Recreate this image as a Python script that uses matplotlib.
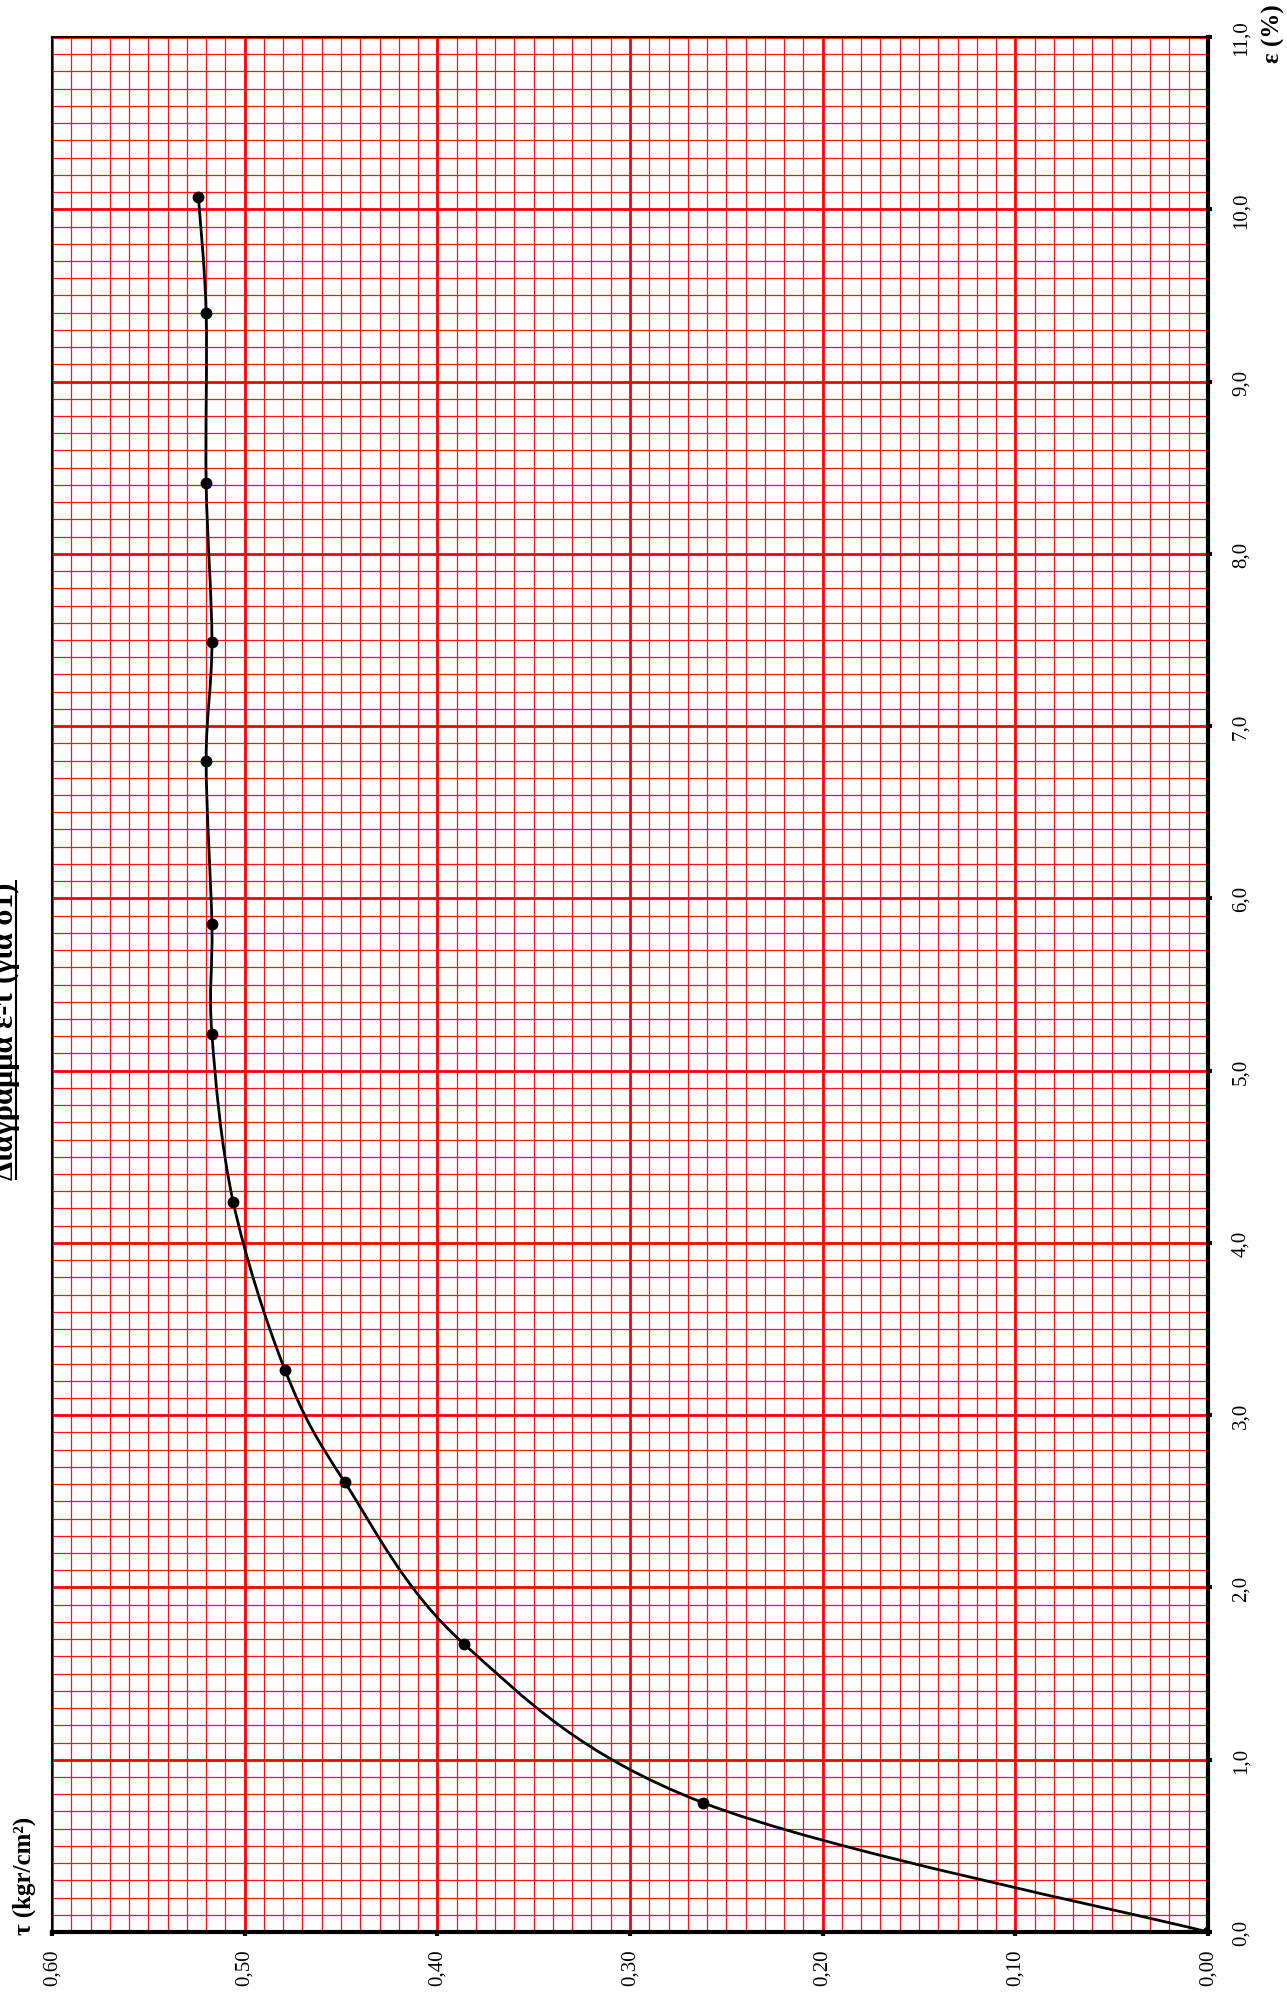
import numpy as np
import matplotlib.pyplot as plt
from matplotlib.path import Path
from matplotlib.patches import PathPatch
from matplotlib.lines import Line2D
from matplotlib.ticker import MultipleLocator, FixedLocator

plt.rcParams['font.family'] = ['Liberation Serif', 'DejaVu Serif']

# =========================
# data (read from the sheet)
# =========================
eps = [0.0, 0.75, 1.67, 2.61, 3.26, 4.24, 5.21, 5.85, 6.80, 7.49, 8.41, 9.40, 10.07]
tau = [0.0, 0.262, 0.386, 0.448, 0.479, 0.506, 0.517, 0.517, 0.520, 0.517, 0.520, 0.520, 0.524]

tau_ticks = [0.0, 0.1, 0.2, 0.3, 0.4, 0.5, 0.6]
tau_labels = ["0,00", "0,10", "0,20", "0,30", "0,40", "0,50", "0,60"]
eps_ticks = list(range(0, 12))
eps_labels = [f"{v},0" for v in eps_ticks]

title = "Διάγραμμα ε-τ (για σ1)"
tau_title = "τ (kgr/cm²)"
eps_title = "ε (%)"

W, H = 1287, 1999


def smooth_path(x, y, sx, sy):
    # excel-like smoothed line: cubic bezier through the points
    px = np.asarray(x) * sx
    py = np.asarray(y) * sy
    n = len(px)
    verts = [(px[0], py[0])]
    codes = [Path.MOVETO]
    for i in range(n - 1):
        i0 = max(i - 1, 0)
        i3 = min(i + 2, n - 1)
        c1 = (px[i] + (px[i + 1] - px[i0]) / 6, py[i] + (py[i + 1] - py[i0]) / 6)
        c2 = (px[i + 1] - (px[i3] - px[i]) / 6, py[i + 1] - (py[i3] - py[i]) / 6)
        verts += [c1, c2, (px[i + 1], py[i + 1])]
        codes += [Path.CURVE4] * 3
    verts = np.array(verts) / [sx, sy]
    return Path(verts, codes)


fig = plt.figure(figsize=(W / 100, H / 100), dpi=100)
ax = fig.add_axes([52 / W, 1 - 1933 / H, (1208 - 52) / W, (1933 - 38) / H])

ax.set_xlim(0.6, 0.0)
ax.set_ylim(0, 11)

ax.xaxis.set_major_locator(FixedLocator(tau_ticks))
ax.xaxis.set_minor_locator(MultipleLocator(0.01))
ax.yaxis.set_major_locator(FixedLocator(eps_ticks))
ax.yaxis.set_minor_locator(MultipleLocator(0.1))
ax.set_xticklabels(tau_labels, rotation=90, fontsize=15)
ax.yaxis.tick_right()
ax.set_yticklabels(eps_labels, rotation=90, fontsize=15, va='center')

ax.set_axisbelow(True)
ax.grid(which='minor', color='#ff1010', linewidth=0.9)
ax.grid(which='major', color='#ff0000', linewidth=2.0)

ax.tick_params(which='major', direction='out', length=3, width=3, color='black')
ax.tick_params(axis='x', which='major', pad=9)
ax.tick_params(axis='y', which='major', pad=14)
ax.tick_params(which='minor', length=0)

for side in ['bottom', 'right']:
    ax.spines[side].set_linewidth(3.0)
    ax.spines[side].set_color('black')
for side in ['left', 'top']:
    ax.spines[side].set_linewidth(1.5)
    ax.spines[side].set_color('#1a0000')

# smoothed curve + points
curve = smooth_path(tau, eps, 1926.7, 172.27)
ax.add_patch(PathPatch(curve, facecolor='none', edgecolor='black', linewidth=2.0, zorder=3))
ax.plot(tau, eps, linestyle='none', marker='o', markersize=7.5, color='black', zorder=4)

# axis titles
fig.text(24 / W, 1 - 1935 / H, tau_title, rotation=90, ha='center', va='bottom',
         fontsize=18, fontweight='bold')
fig.text(1273 / W, 1 - 4 / H, eps_title, rotation=90, ha='center', va='top',
         fontsize=18, fontweight='bold')

# title, partly off the sheet (as in the original scan), underlined
t = fig.text(20 / W, 1 - 1031 / H, title, rotation=90, ha='right', va='center',
             fontsize=22, fontweight='bold')
fig.canvas.draw()
bb = t.get_window_extent(fig.canvas.get_renderer())
ux = (bb.x1 - 4) / W
fig.add_artist(Line2D([ux, ux], [bb.y0 / H, bb.y1 / H], transform=fig.transFigure,
                      color='black', linewidth=1.5))

fig.savefig("out.png", dpi=100)
